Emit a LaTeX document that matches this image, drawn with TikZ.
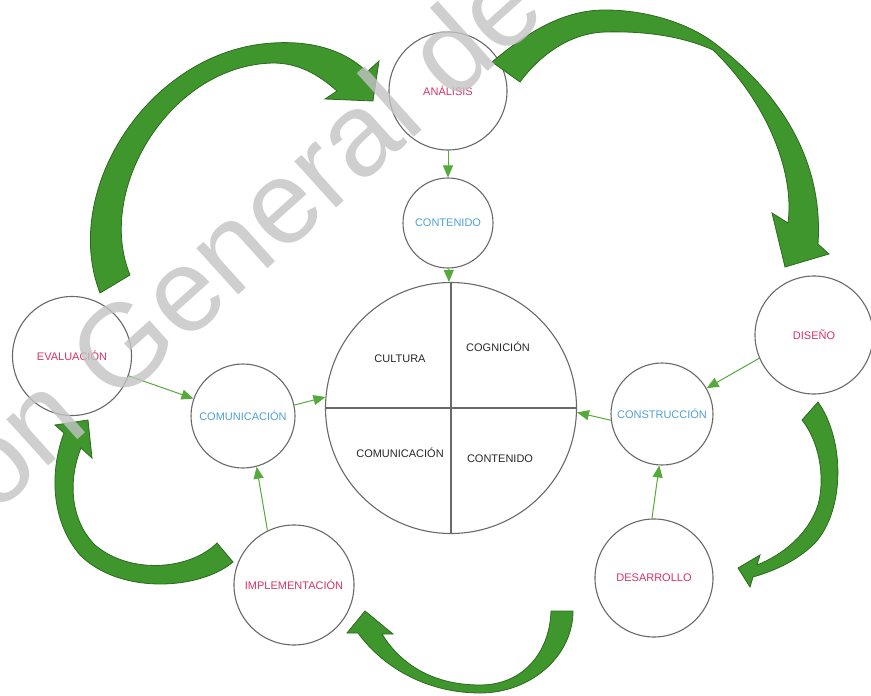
\documentclass[tikz,border=0pt]{standalone}
\usepackage{fontspec}
\setmainfont{Liberation Sans}
\usetikzlibrary{arrows.meta}
\definecolor{bandfill}{RGB}{62,150,45}
\definecolor{bandline}{RGB}{45,105,30}
\definecolor{linkgreen}{RGB}{85,170,60}
\definecolor{phasered}{RGB}{215,50,100}
\definecolor{areablue}{RGB}{80,160,220}
\definecolor{ringgray}{RGB}{105,105,105}
\definecolor{inktext}{RGB}{40,40,40}
\definecolor{markgray}{RGB}{195,195,195}
\tikzset{
  ring/.style={circle, draw=ringgray, line width=1.1pt, fill=white, inner sep=0pt,
    font=\fontsize{11}{13}\selectfont},
  phase/.style={ring, text=phasered},
  area/.style={ring, text=areablue},
  quad/.style={font=\fontsize{11}{13}\selectfont, text=inktext},
  link/.style={draw=linkgreen, line width=1pt,
    -{Triangle[length=12pt,width=10pt,fill=linkgreen]}},
  band/.style={fill=bandfill, draw=bandline, line width=0.8pt, line join=miter}
}
\begin{document}
\begin{tikzpicture}[x=1pt,y=-1pt]
\useasboundingbox (0,0) rectangle (871,696);

% phase circles
\node[phase, minimum size=118pt] (ana) at (448,91)  {ANÁLISIS};
\node[phase, minimum size=118pt] (dis) at (814,335) {DISEÑO};
\node[phase, minimum size=118pt] (des) at (654,578) {DESARROLLO};
\node[phase, minimum size=120pt] (imp) at (294,585) {IMPLEMENTACIÓN};
\node[phase, minimum size=119pt] (eva) at (72,356)  {EVALUACIÓN};

% area circles
\node[area, minimum size=90pt]  (cnt) at (448,223) {CONTENIDO};
\node[area, minimum size=104pt] (com) at (243,416) {COMUNICACIÓN};
\node[area, minimum size=102pt] (cns) at (662,414) {CONSTRUCCIÓN};

% central circle with four quadrants
\node[ring, minimum size=251pt] (core) at (451,408) {};
\draw[ringgray, line width=1.1pt] (core.north) -- (core.south);
\draw[ringgray, line width=1.1pt] (core.west) -- (core.east);
\node[quad] (qcul) at (400,359) {CULTURA};
\node[quad] (qcog) at (498,347) {COGNICIÓN};
\node[quad] (qcom) at (400,453) {COMUNICACIÓN};
\node[quad] (qcon) at (500,459) {CONTENIDO};

% thin connectors
\draw[link] (ana) -- (cnt);
\draw[link] (cnt) -- (core);
\draw[link] (eva) -- (com);
\draw[link] (com.12) -- (core.175);
\draw[link] (imp.116) -- (com.-75);
\draw[link] (dis.203) -- (cns.30);
\draw[link] (cns.187) -- (core.-2);
\draw[link] (des.92) -- (cns.267);

% curved block arrows of the cycle
% evaluation -> analysis
\draw[band] (100,293) .. controls (60,190) and (150,50) .. (273,43)
  .. controls (320,40) and (350,55) .. (367,72)
  -- (379,61) -- (373,101) -- (325,99) -- (337,91)
  .. controls (318,74) and (298,63) .. (273,63)
  .. controls (170,65) and (95,190) .. (130,275) -- cycle;
% analysis -> design
\draw[band] (492,62) .. controls (530,30) and (565,10) .. (605,10)
  .. controls (650,10) and (690,25) .. (713,42)
  .. controls (790,100) and (823,170) .. (818,244)
  -- (829,254) -- (785,267) -- (772,213) -- (788,223)
  .. controls (795,170) and (765,100) .. (713,50)
  .. controls (680,35) and (640,31) .. (605,32)
  .. controls (570,33) and (540,55) .. (520,82) -- cycle;
% design -> development
\draw[band] (818,402) .. controls (845,440) and (845,510) .. (815,543)
  .. controls (795,563) and (770,572) .. (753,577)
  -- (750,587) -- (738,568) -- (760,555) -- (757,565)
  .. controls (782,555) and (808,535) .. (818,505)
  .. controls (826,475) and (818,440) .. (802,420) -- cycle;
% development -> implementation
\draw[band] (573,611) .. controls (573,656) and (531,693) .. (480,693)
  .. controls (430,693) and (385,670) .. (358,633)
  -- (347,633) -- (365,611) -- (393,634) -- (382,634)
  .. controls (398,660) and (428,685) .. (480,685)
  .. controls (525,685) and (550,650) .. (551,611) -- cycle;
% implementation -> evaluation
\draw[band] (233,562) .. controls (200,590) and (120,595) .. (80,555)
  .. controls (50,520) and (50,470) .. (64,433)
  -- (55,425) -- (88,420) -- (92,458) -- (81,448)
  .. controls (68,480) and (70,520) .. (95,545)
  .. controls (130,575) and (190,570) .. (217,543) -- cycle;

% watermark
\begin{scope}
\clip (0,0) rectangle (871,696);
\node[rotate=42, anchor=base west, inner sep=0pt, text=markgray, opacity=0.8,
  font=\fontsize{118}{118}\selectfont] (mark) at (-6,516) {ón General de};
\end{scope}
\end{tikzpicture}
\end{document}
